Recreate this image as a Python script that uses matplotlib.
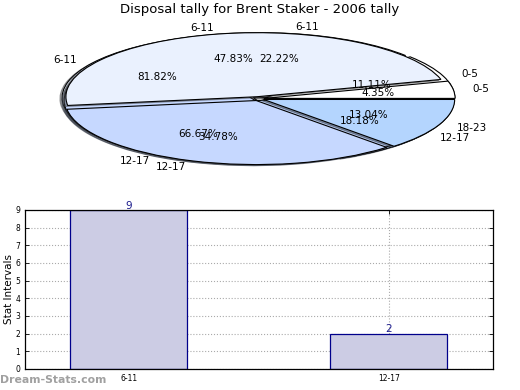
import matplotlib
matplotlib.use("Agg")
import matplotlib.pyplot as plt
from matplotlib.patches import Shadow

title = "Disposal tally for Brent Staker - 2006 tally"

# Pie series (drawn overlaid, in this order; last on top)
pie_a_labels = ["6-11", "12-17"]
pie_a_values = [9, 2]
pie_c_labels = ["0-5", "6-11", "12-17"]
pie_c_values = [1, 2, 6]
pie_b_labels = ["0-5", "6-11", "12-17", "18-23"]
pie_b_values = [1, 11, 8, 3]

# Bar series
bar_categories = ["6-11", "12-17"]
bar_values = [9, 2]
y_ticks = list(range(0, 10))

cat_colors = {"0-5": "#ffffff", "6-11": "#eaf1fe", "12-17": "#c6d8ff", "18-23": "#b4d5fe"}

fig = plt.figure(figsize=(5.2, 3.9), dpi=100)
fig.patch.set_facecolor("white")

# ---- pie axes (stretched ellipse) ----
axp = fig.add_axes([0.023, 0.51, 0.947, 0.474])

zo = 1
for labels, values in [(pie_a_labels, pie_a_values),
                       (pie_c_labels, pie_c_values),
                       (pie_b_labels, pie_b_values)]:
    wedges, texts, autotexts = axp.pie(
        values, labels=labels, colors=[cat_colors[l] for l in labels],
        autopct="%1.2f%%", shadow=False, explode=[0.03] * len(values),
        startangle=0, radius=0.97, frame=True,
        wedgeprops=dict(edgecolor="black", linewidth=0.8, zorder=zo + 1),
        textprops=dict(fontsize=7.5, color="black", zorder=10))
    for w in wedges:
        sh = Shadow(w, -0.008, -0.012)
        sh.set_zorder(zo)
        axp.add_patch(sh)
    zo += 2
axp.set_xlim(-1.25, 1.25)
axp.set_ylim(-1.4, 1.4)
axp.set_aspect("auto")
axp.axis("off")

fig.text(0.5, 0.975, title, ha="center", va="center", fontsize=9.5)

# ---- bar axes ----
axb = fig.add_axes([0.048, 0.054, 0.9, 0.408])
x = list(range(len(bar_categories)))
bars = axb.bar(x, bar_values, width=0.45, color="#cccce4", edgecolor="#00008b",
               linewidth=0.9, zorder=2)
for xi, v in zip(x, bar_values):
    axb.text(xi, v - 0.05, str(v), ha="center", va="bottom", fontsize=7.5,
             color="#1a1a8c", clip_on=False, zorder=3)
axb.set_xlim(-0.4, 1.4)
axb.set_ylim(0, 9)
axb.set_yticks(y_ticks)
axb.set_xticks(x)
axb.set_xticklabels(bar_categories)
axb.tick_params(axis="both", labelsize=5.5, direction="in", length=3,
                top=True, right=True, width=0.6)
axb.grid(True, linestyle=":", color="#aaaaaa", linewidth=0.8, zorder=1)
axb.set_axisbelow(True)
axb.set_ylabel("Stat Intervals", fontsize=7.5, labelpad=1)
axb.set_xlabel("Frequency", fontsize=7.5, labelpad=6)
for s in axb.spines.values():
    s.set_linewidth(0.9)

fig.text(0.0, 0.025, "Dream-Stats.com", ha="left", va="center", fontsize=7.8,
         color="#a0a0a0", fontweight="bold")

fig.savefig("out.png", dpi=100)
